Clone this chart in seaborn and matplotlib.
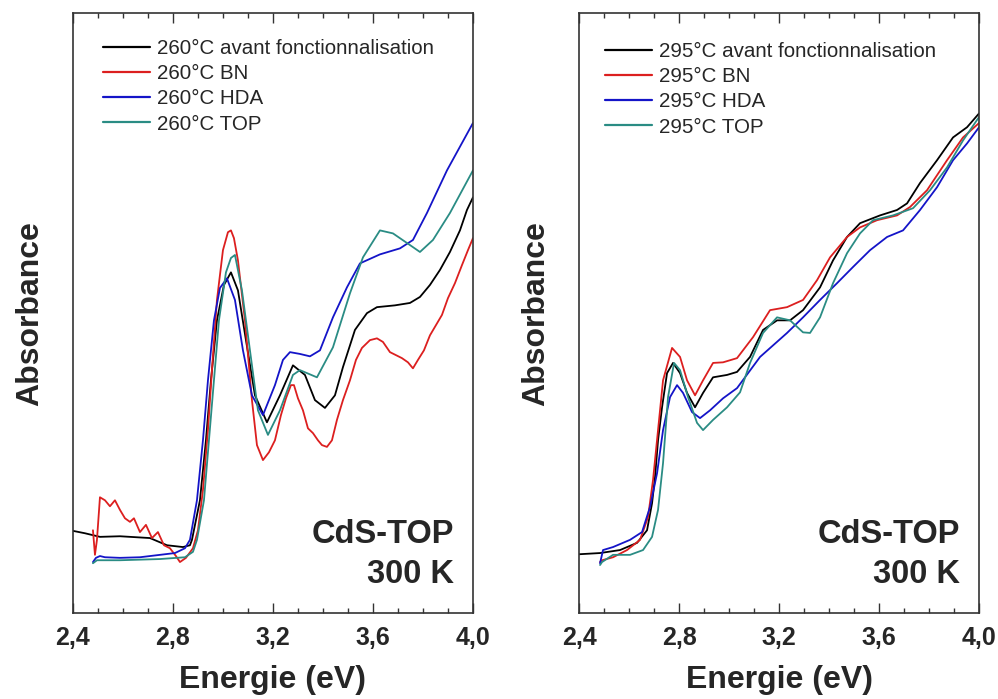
import numpy as np
import pandas as pd
import matplotlib
matplotlib.use("Agg")
import matplotlib.pyplot as plt
import seaborn as sns
from matplotlib.ticker import MultipleLocator, FuncFormatter

# --- Données (absorbance en unités arbitraires) ---

# Panneau gauche : 260°C
e_260_avant = [2.400, 2.448, 2.508, 2.588, 2.708, 2.776, 2.840, 2.868, 2.876, 2.908, 2.932, 2.952,
               2.976, 3.004, 3.032, 3.060, 3.092, 3.128, 3.176, 3.228, 3.280, 3.328, 3.368, 3.408,
               3.448, 3.480, 3.528, 3.576, 3.616, 3.688, 3.748, 3.788, 3.828, 3.868, 3.908, 3.948,
               3.976, 4.000]
a_260_avant = [0.137, 0.133, 0.127, 0.128, 0.125, 0.113, 0.110, 0.113, 0.122, 0.188, 0.288, 0.388,
               0.488, 0.547, 0.568, 0.538, 0.455, 0.363, 0.318, 0.363, 0.413, 0.397, 0.355, 0.342,
               0.363, 0.410, 0.472, 0.500, 0.510, 0.513, 0.517, 0.527, 0.547, 0.572, 0.602, 0.638,
               0.672, 0.693]

e_260_bn = [2.480, 2.488, 2.496, 2.508, 2.528, 2.548, 2.568, 2.588, 2.608, 2.628, 2.644, 2.668,
            2.692, 2.716, 2.740, 2.764, 2.788, 2.812, 2.828, 2.852, 2.880, 2.900, 2.920, 2.940,
            2.956, 2.976, 3.000, 3.020, 3.032, 3.044, 3.060, 3.088, 3.116, 3.136, 3.160, 3.184,
            3.208, 3.232, 3.252, 3.272, 3.284, 3.300, 3.320, 3.340, 3.360, 3.380, 3.396, 3.416,
            3.436, 3.456, 3.480, 3.508, 3.532, 3.556, 3.588, 3.616, 3.640, 3.668, 3.692, 3.716,
            3.740, 3.760, 3.780, 3.804, 3.828, 3.852, 3.876, 3.900, 3.928, 3.956, 3.980, 4.000]
a_260_bn = [0.138, 0.097, 0.122, 0.193, 0.188, 0.178, 0.188, 0.172, 0.158, 0.152, 0.158, 0.135,
            0.147, 0.125, 0.135, 0.113, 0.108, 0.095, 0.085, 0.092, 0.108, 0.138, 0.205, 0.305,
            0.405, 0.522, 0.605, 0.635, 0.638, 0.625, 0.588, 0.488, 0.355, 0.280, 0.255, 0.268,
            0.288, 0.330, 0.358, 0.380, 0.380, 0.358, 0.338, 0.308, 0.300, 0.288, 0.280, 0.277,
            0.288, 0.322, 0.355, 0.388, 0.422, 0.442, 0.455, 0.458, 0.452, 0.435, 0.430, 0.425,
            0.418, 0.408, 0.422, 0.438, 0.463, 0.480, 0.497, 0.525, 0.550, 0.580, 0.605, 0.625]

e_260_hda = [2.480, 2.492, 2.508, 2.528, 2.588, 2.668, 2.748, 2.808, 2.848, 2.868, 2.896, 2.920,
             2.940, 2.964, 2.988, 3.016, 3.048, 3.080, 3.116, 3.160, 3.208, 3.240, 3.268, 3.308,
             3.348, 3.388, 3.440, 3.496, 3.548, 3.628, 3.708, 3.760, 3.816, 3.896, 4.000]
a_260_hda = [0.085, 0.092, 0.095, 0.093, 0.092, 0.093, 0.097, 0.100, 0.108, 0.122, 0.188, 0.288,
             0.388, 0.488, 0.542, 0.558, 0.522, 0.438, 0.363, 0.330, 0.380, 0.422, 0.435, 0.432,
             0.428, 0.438, 0.493, 0.543, 0.583, 0.598, 0.608, 0.622, 0.667, 0.738, 0.817]

e_260_top = [2.480, 2.496, 2.588, 2.748, 2.848, 2.880, 2.896, 2.924, 2.944, 2.964, 2.984, 3.012,
             3.032, 3.048, 3.076, 3.108, 3.140, 3.180, 3.228, 3.280, 3.308, 3.376, 3.440, 3.508,
             3.560, 3.628, 3.680, 3.736, 3.788, 3.840, 3.908, 4.000]
a_260_top = [0.083, 0.088, 0.088, 0.090, 0.093, 0.102, 0.122, 0.188, 0.288, 0.388, 0.488, 0.568,
             0.592, 0.597, 0.538, 0.438, 0.338, 0.297, 0.338, 0.397, 0.405, 0.393, 0.443, 0.533,
             0.593, 0.638, 0.633, 0.617, 0.602, 0.622, 0.667, 0.738]

# Panneau droit : 295°C
e_295_avant = [2.400, 2.484, 2.564, 2.632, 2.672, 2.692, 2.704, 2.716, 2.732, 2.752, 2.776, 2.804,
               2.832, 2.864, 2.896, 2.936, 2.992, 3.032, 3.084, 3.136, 3.192, 3.244, 3.296, 3.364,
               3.416, 3.472, 3.524, 3.604, 3.672, 3.712, 3.764, 3.832, 3.896, 3.952, 4.000]
a_295_avant = [0.098, 0.100, 0.105, 0.117, 0.138, 0.183, 0.227, 0.288, 0.343, 0.400, 0.417, 0.400,
               0.367, 0.343, 0.367, 0.393, 0.397, 0.402, 0.427, 0.472, 0.488, 0.488, 0.505, 0.543,
               0.588, 0.627, 0.650, 0.663, 0.672, 0.683, 0.717, 0.755, 0.793, 0.810, 0.833]

e_295_bn = [2.484, 2.492, 2.536, 2.592, 2.644, 2.676, 2.696, 2.716, 2.736, 2.772, 2.804, 2.832,
            2.864, 2.896, 2.936, 2.976, 3.032, 3.096, 3.164, 3.232, 3.296, 3.352, 3.404, 3.472,
            3.524, 3.592, 3.672, 3.724, 3.792, 3.872, 3.936, 4.000]
a_295_bn = [0.085, 0.088, 0.093, 0.105, 0.122, 0.160, 0.222, 0.305, 0.388, 0.442, 0.427, 0.388,
            0.363, 0.388, 0.417, 0.418, 0.425, 0.460, 0.505, 0.510, 0.522, 0.555, 0.593, 0.627,
            0.643, 0.655, 0.663, 0.677, 0.705, 0.755, 0.793, 0.817]

e_295_hda = [2.484, 2.496, 2.536, 2.604, 2.652, 2.684, 2.712, 2.736, 2.764, 2.792, 2.816, 2.852,
             2.884, 2.924, 2.976, 3.032, 3.124, 3.232, 3.296, 3.364, 3.432, 3.496, 3.564, 3.632,
             3.696, 3.764, 3.832, 3.896, 3.952, 4.000]
a_295_hda = [0.083, 0.105, 0.110, 0.122, 0.135, 0.177, 0.233, 0.305, 0.360, 0.380, 0.367, 0.335,
             0.325, 0.338, 0.358, 0.375, 0.427, 0.467, 0.493, 0.522, 0.550, 0.577, 0.605, 0.627,
             0.638, 0.672, 0.710, 0.755, 0.783, 0.810]

e_295_top = [2.484, 2.492, 2.536, 2.604, 2.656, 2.692, 2.716, 2.736, 2.756, 2.780, 2.804, 2.836,
             2.872, 2.896, 2.936, 2.992, 3.044, 3.084, 3.136, 3.192, 3.244, 3.296, 3.324, 3.364,
             3.416, 3.472, 3.524, 3.576, 3.656, 3.736, 3.804, 3.872, 3.936, 4.000]
a_295_top = [0.080, 0.085, 0.097, 0.097, 0.105, 0.127, 0.172, 0.250, 0.360, 0.417, 0.405, 0.360,
             0.317, 0.305, 0.322, 0.343, 0.368, 0.417, 0.467, 0.493, 0.488, 0.468, 0.467, 0.493,
             0.550, 0.600, 0.633, 0.655, 0.663, 0.675, 0.705, 0.743, 0.788, 0.827]

labels_260 = ["260°C avant fonctionnalisation", "260°C BN", "260°C HDA", "260°C TOP"]
labels_295 = ["295°C avant fonctionnalisation", "295°C BN", "295°C HDA", "295°C TOP"]
couleurs = ["#000000", "#dc1f1f", "#1414c8", "#2a8c84"]


def construire_df(series, labels):
    frames = []
    for (e, a), lab in zip(series, labels):
        frames.append(pd.DataFrame({"E": e, "A": a, "serie": lab}))
    return pd.concat(frames, ignore_index=True)


df_260 = construire_df([(e_260_avant, a_260_avant), (e_260_bn, a_260_bn),
                        (e_260_hda, a_260_hda), (e_260_top, a_260_top)], labels_260)
df_295 = construire_df([(e_295_avant, a_295_avant), (e_295_bn, a_295_bn),
                        (e_295_hda, a_295_hda), (e_295_top, a_295_top)], labels_295)

sns.set_style("white")
plt.rcParams["font.family"] = ["Liberation Sans", "DejaVu Sans"]

fig = plt.figure(figsize=(9.98, 6.99), dpi=100)
ax1 = fig.add_axes([0.0731, 0.123, 0.4008, 0.858])
ax2 = fig.add_axes([0.5802, 0.123, 0.4008, 0.858])


def tracer(ax, df, labels, leg_x, leg_y):
    sns.lineplot(data=df, x="E", y="A", hue="serie", hue_order=labels,
                 palette=couleurs, estimator=None, sort=False, linewidth=1.3,
                 ax=ax, legend=True)
    handles, labs = ax.get_legend_handles_labels()
    for h in handles:
        h.set_linewidth(1.6)
    ax.legend(handles, labs, loc="upper left", bbox_to_anchor=(leg_x, leg_y),
              frameon=False, fontsize=14.8, handlelength=2.3, handletextpad=0.33,
              labelspacing=0.3, borderpad=0, borderaxespad=0)

    ax.set_xlim(2.4, 4.0)
    ax.set_ylim(0, 1)
    ax.xaxis.set_major_locator(MultipleLocator(0.4))
    ax.xaxis.set_minor_locator(MultipleLocator(0.1))
    ax.xaxis.set_major_formatter(FuncFormatter(lambda v, p: f"{v:.1f}".replace(".", ",")))
    ax.set_yticks([])
    ax.tick_params(axis="x", which="both", direction="in", top=True, bottom=True,
                   color="#333333")
    ax.tick_params(axis="x", which="major", length=7, width=1.0, pad=9,
                   labelsize=18)
    ax.tick_params(axis="x", which="minor", length=3.5, width=1.0)
    for lab in ax.get_xticklabels():
        lab.set_fontweight("bold")
    for sp in ax.spines.values():
        sp.set_color("#333333")
        sp.set_linewidth(1.2)

    ax.set_xlabel("Energie (eV)", fontsize=23, fontweight="bold", labelpad=11)
    ax.set_ylabel("Absorbance", fontsize=23, fontweight="bold", labelpad=20)

    ax.text(0.952, 0.117, "CdS-TOP", transform=ax.transAxes, ha="right",
            va="baseline", fontsize=23.5, fontweight="bold")
    ax.text(0.952, 0.05, "300 K", transform=ax.transAxes, ha="right",
            va="baseline", fontsize=23.5, fontweight="bold")


tracer(ax1, df_260, labels_260, 0.075, 0.957)
tracer(ax2, df_295, labels_295, 0.065, 0.952)

fig.savefig("out.png", dpi=100)
